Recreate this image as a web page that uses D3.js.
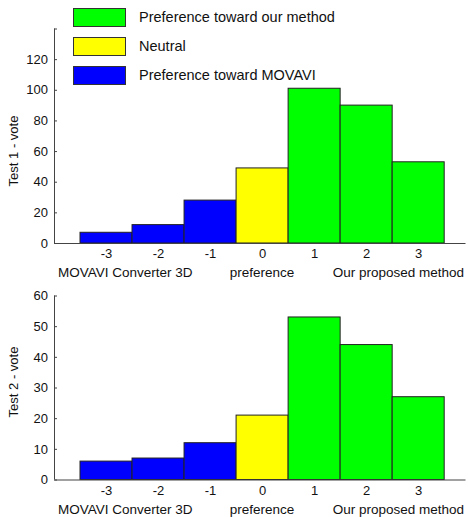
<!DOCTYPE html>
<html>
<head>
<meta charset="utf-8">
<script src="https://cdn.jsdelivr.net/npm/d3@7"></script>
<style>
  body { margin: 0; background: #fff; }
  svg text { font-family: Arial, "Liberation Sans", sans-serif; fill: #111; }
</style>
</head>
<body>
<svg width="468" height="517"></svg>
<script>
// votes per preference score
var scores = [-3, -2, -1, 0, 1, 2, 3];
var test1Votes = [7, 12, 28, 49, 101, 90, 53];
var test2Votes = [6, 7, 12, 21, 53, 44, 27];
var test1Ticks = [0, 20, 40, 60, 80, 100, 120, 140];
var test2Ticks = [0, 10, 20, 30, 40, 50, 60];
var legendLabels = ["Preference toward our method", "Neutral", "Preference toward MOVAVI"];
var legendColors = ["#00ff00", "#ffff00", "#0000ff"];
var bottomLabels = ["MOVAVI Converter 3D", "preference", "Our proposed method"];

var axisColor = "#444";
var edgeColor = "#222";

function barColor(s) {
    if (s < 0) return "#0000ff";
    if (s == 0) return "#ffff00";
    return "#00ff00";
}

var svg = d3.select("svg");

var x = d3.scaleLinear().domain([-4, 3.9]).range([54, 465]);
var bw = x(1) - x(0);

function drawPanel(votes, ticks, yMax, top, bottom, label, labelY, hideTop) {
    var y = d3.scaleLinear().domain([0, yMax]).range([bottom, top]);
    var g = svg.append("g");

    g.selectAll("rect.bar")
        .data(scores)
        .enter().append("rect")
        .attr("class", "bar")
        .attr("x", function (d) { return x(d) - bw / 2; })
        .attr("width", bw)
        .attr("y", function (d, i) { return y(votes[i]); })
        .attr("height", function (d, i) { return bottom - y(votes[i]); })
        .attr("fill", barColor)
        .attr("stroke", edgeColor)
        .attr("stroke-width", 1);

    // y axis, ticks pointing inward
    var yAxis = d3.axisLeft(y)
        .tickValues(ticks)
        .tickSize(-3)
        .tickPadding(6)
        .tickFormat(function (d) { return (hideTop && d == yMax) ? "" : String(d); });
    var ya = g.append("g")
        .attr("transform", "translate(" + x(-4) + ",0)")
        .call(yAxis);
    ya.select(".domain").attr("stroke", axisColor).attr("d", "M0.5," + top + "V" + bottom);
    ya.selectAll(".tick line").attr("stroke", axisColor);
    ya.selectAll("text").style("font-size", "13px").attr("fill", "#111");

    // x axis
    var xAxis = d3.axisBottom(x)
        .tickValues(scores)
        .tickSize(0)
        .tickPadding(6)
        .tickFormat(function (d) { return String(d); });
    var xa = g.append("g")
        .attr("transform", "translate(0," + bottom + ")")
        .call(xAxis);
    xa.select(".domain").attr("stroke", axisColor).attr("stroke-width", 1.2);
    xa.selectAll("text").style("font-size", "13px").attr("fill", "#111");

    g.append("text")
        .attr("transform", "translate(18," + labelY + ") rotate(-90)")
        .attr("text-anchor", "middle")
        .style("font-size", "13px")
        .text(label);

    var by = bottom + 34;
    g.append("text").attr("x", 58).attr("y", by).style("font-size", "13.5px").text(bottomLabels[0]);
    g.append("text").attr("x", x(0)).attr("y", by).attr("text-anchor", "middle").style("font-size", "13.5px").text(bottomLabels[1]);
    g.append("text").attr("x", 464).attr("y", by).attr("text-anchor", "end").style("font-size", "13.5px").text(bottomLabels[2]);
}

drawPanel(test1Votes, test1Ticks, 140, 28.5, 243, "Test 1 - vote", 151, true);
drawPanel(test2Votes, test2Ticks, 60, 295.5, 479.5, "Test 2 - vote", 382, false);

// legend
var legend = svg.append("g");
var legendY = d3.scaleBand().domain(legendLabels).range([8, 80]).paddingInner(0.5);
legend.selectAll("rect")
    .data(legendLabels)
    .enter().append("rect")
    .attr("x", 73.5)
    .attr("y", function (d) { return Math.round(legendY(d)) + 0.5; })
    .attr("width", 52)
    .attr("height", 18)
    .attr("fill", function (d, i) { return legendColors[i]; })
    .attr("stroke", "#333");
legend.selectAll("text")
    .data(legendLabels)
    .enter().append("text")
    .attr("x", 139)
    .attr("y", function (d) { return legendY(d) + 9; })
    .attr("dy", "0.35em")
    .style("font-size", "14.5px")
    .text(function (d) { return d; });
</script>
</body>
</html>
